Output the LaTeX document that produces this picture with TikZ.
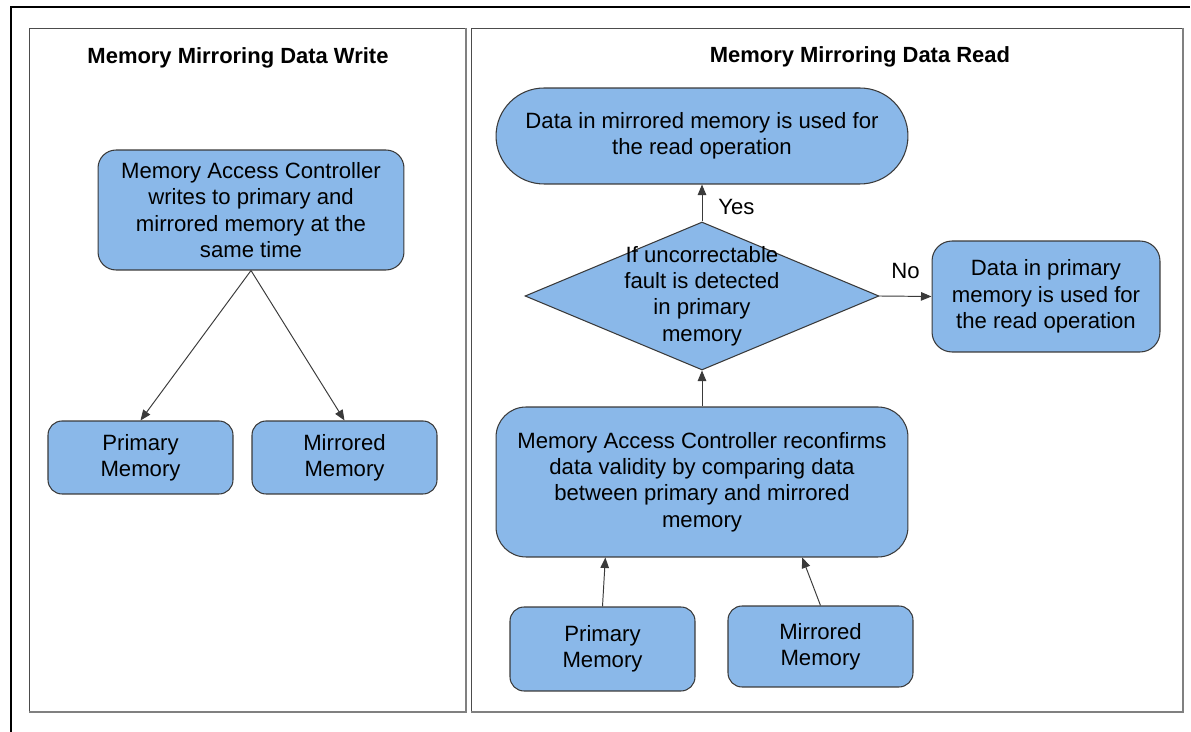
\documentclass[tikz,border=0pt]{standalone}
\usepackage{fontspec}
\setmainfont{Liberation Sans}
\usetikzlibrary{shapes.geometric}
\usetikzlibrary{arrows.meta}
\usetikzlibrary{positioning}
\definecolor{boxblue}{HTML}{8AB8E9}
\definecolor{boxline}{HTML}{3A3A3A}
\tikzset{
	boxtext/.style={font=\fontsize{12.6}{15}\selectfont, align=center},
	membox/.style={boxtext, draw=boxline, fill=boxblue, line width=0.6pt, rounded corners=0.28cm, inner sep=0pt},
	terminal/.style={membox, rounded corners=0.96cm},
	decision/.style={diamond, draw=boxline, fill=boxblue, line width=0.6pt, inner sep=0pt},
	flow/.style={draw=boxline, line width=0.55pt, -{Triangle[length=2.1mm,width=1.7mm]}},
	paneltitle/.style={font=\fontsize{12.5}{15}\selectfont\bfseries},
}
\begin{document}
\begin{tikzpicture}[x=0.02cm, y=-0.02cm]
			\useasboundingbox (0,0) rectangle (1191,732);
			% outer frame
			\draw[black, line width=1.2pt] (1190,7) -- (11,7) -- (11,732);
			% panels
			\draw[gray!60!black, line width=0.5pt] (29,712) -- (29,28) -- (466,28);
			\draw[gray, line width=1.1pt] (466,28) -- (466,712) -- (29,712);
			\draw[gray!60!black, line width=0.5pt] (471,712) -- (471,28) -- (1183,28);
			\draw[gray, line width=1.1pt] (1183,28) -- (1183,712) -- (471,712);
			\node[paneltitle] (wtitle) at (238,58) {Memory Mirroring Data Write};
			\node[paneltitle] (rtitle) at (860,57) {Memory Mirroring Data Read};
			% write side
			\node[membox, rounded corners=0.36cm, minimum width=6.12cm, minimum height=2.4cm] (wmac) at (251,210)
				{Memory Access Controller\\writes to primary and\\mirrored memory at the\\same time};
			\node[membox, minimum width=3.7cm, minimum height=1.46cm] (wprim) at (140.5,457.5) {Primary\\Memory};
			\node[membox, minimum width=3.7cm, minimum height=1.46cm] (wmirr) at (344.5,457.5) {Mirrored\\Memory};
			\draw[flow] (wmac.south) -- (wprim.north);
			\draw[flow] (wmac.south) -- (wmirr.north);
			% read side
			\node[terminal, minimum width=8.24cm, minimum height=1.92cm] (mirrused) at (702,136)
				{Data in mirrored memory is used for\\the read operation};
			\node[decision, minimum width=7.08cm, minimum height=2.96cm] (fault) at (702,296) {};
			\node[boxtext, inner sep=0pt] (faulttxt) at (fault.center)
				{If uncorrectable\\fault is detected\\in primary\\memory};
			\node[membox, rounded corners=0.4cm, minimum width=4.56cm, minimum height=2.22cm] (primused) at (1046,296.5)
				{Data in primary\\memory is used for\\the read operation};
			\node[membox, rounded corners=0.6cm, minimum width=8.24cm, minimum height=3cm] (rmac) at (702,482)
				{Memory Access Controller reconfirms\\data validity by comparing data\\between primary and mirrored\\memory};
			\node[membox, minimum width=3.7cm, minimum height=1.68cm] (rprim) at (602.5,649) {Primary\\Memory};
			\node[membox, minimum width=3.7cm, minimum height=1.62cm] (rmirr) at (820.5,646.5) {Mirrored\\Memory};
			\draw[flow] (fault.north) -- (mirrused.south) node[boxtext, midway, right=0.2cm, yshift=-0.08cm] (yes) {Yes};
			\draw[flow] (fault.east) -- (primused.west) node[boxtext, midway, above=0.22cm] (no) {No};
			\draw[flow] (rmac.north) -- (fault.south);
			\draw[flow] (rprim.north) -- (rmac.218.6);
			\draw[flow] (rmirr.north) -- (rmac.323.4);
		\end{tikzpicture}
\end{document}
